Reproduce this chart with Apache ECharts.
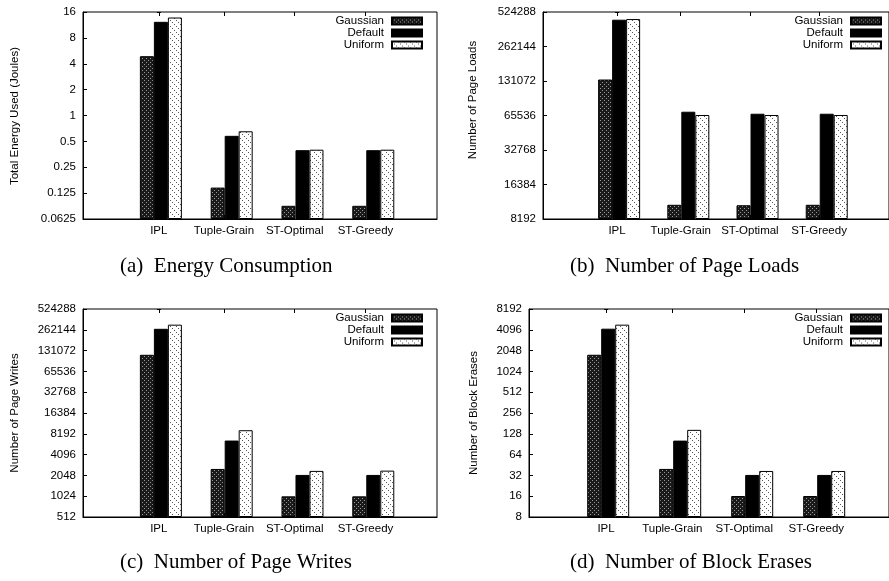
<!DOCTYPE html>
<html>
<head>
<meta charset="utf-8">
<script src="https://cdn.jsdelivr.net/npm/echarts@6/dist/echarts.min.js"></script>
<style>
html,body{margin:0;padding:0;background:#fff;}
#chart{width:889px;height:581px;}
</style>
</head>
<body>
<div id="chart"></div>
<script>
// ---- data ----
const categories = ['IPL', 'Tuple-Grain', 'ST-Optimal', 'ST-Greedy'];
const seriesNames = ['Gaussian', 'Default', 'Uniform'];

const energyGaussian = [4.9, 0.145, 0.089, 0.089];
const energyDefault  = [12.3, 0.58, 0.395, 0.395];
const energyUniform  = [13.8, 0.655, 0.40, 0.40];

const loadsGaussian = [135000, 10900, 10800, 10900];
const loadsDefault  = [449000, 70700, 67900, 67900];
const loadsUniform  = [455000, 66200, 66200, 66200];

const writesGaussian = [114000, 2540, 1020, 1020];
const writesDefault  = [271000, 6540, 2080, 2080];
const writesUniform  = [311000, 9230, 2380, 2400];

const erasesGaussian = [1783, 39.7, 16.1, 16.1];
const erasesDefault  = [4250, 102, 32.5, 32.5];
const erasesUniform  = [4860, 146, 37.1, 37.1];

const energyTicks = [0.0625, 0.125, 0.25, 0.5, 1, 2, 4, 8, 16];
const loadsTicks  = [8192, 16384, 32768, 65536, 131072, 262144, 524288];
const writesTicks = [512, 1024, 2048, 4096, 8192, 16384, 32768, 65536, 131072, 262144, 524288];
const erasesTicks = [8, 16, 32, 64, 128, 256, 512, 1024, 2048, 4096, 8192];

const yTitles = ['Total Energy Used (Joules)', 'Number of Page Loads', 'Number of Page Writes', 'Number of Block Erases'];
const captions = ['(a)  Energy Consumption', '(b)  Number of Page Loads', '(c)  Number of Page Writes', '(d)  Number of Block Erases'];

// ---- patterns ----
function pattern(kind) {
  const c = document.createElement('canvas');
  const ctx = c.getContext('2d');
  if (kind === 'gauss') {
    c.width = 4; c.height = 4;
    ctx.fillStyle = '#1a1a1a'; ctx.fillRect(0, 0, 4, 4);
    ctx.fillStyle = '#9a9a9a'; ctx.fillRect(0, 0, 1, 1); ctx.fillRect(2, 2, 1, 1);
  } else {
    c.width = 6; c.height = 6;
    ctx.fillStyle = '#ffffff'; ctx.fillRect(0, 0, 6, 6);
    ctx.fillStyle = '#555555';
    ctx.fillRect(0, 0, 1, 1); ctx.fillRect(2, 2, 1, 1); ctx.fillRect(4, 4, 1, 1);
  }
  return { image: c, repeat: 'repeat' };
}
const fills = [pattern('gauss'), '#000000', pattern('uni')];

const FONT = 'Liberation Sans, Arial, sans-serif';
const panels = [
  { data: [energyGaussian, energyDefault, energyUniform], ticks: energyTicks,
    grid: { left: 83, top: 12, width: 354, height: 207 }, xmin: -1.1, xmax: 3.9,
    legend: { right: 466, top: 15 }, title: [15, 116], cap: [120, 266] },
  { data: [loadsGaussian, loadsDefault, loadsUniform], ticks: loadsTicks,
    grid: { left: 543, top: 12, width: 354, height: 207 }, xmin: -1.1, xmax: 3.9,
    legend: { right: 7, top: 15 }, title: [473, 100], cap: [570, 266] },
  { data: [writesGaussian, writesDefault, writesUniform], ticks: writesTicks,
    grid: { left: 83, top: 309, width: 354, height: 208 }, xmin: -1.1, xmax: 3.9,
    legend: { right: 466, top: 312 }, title: [15, 413], cap: [120, 562] },
  { data: [erasesGaussian, erasesDefault, erasesUniform], ticks: erasesTicks,
    grid: { left: 529, top: 309, width: 368, height: 208 }, xmin: -1.1, xmax: 3.9,
    legend: { right: 7, top: 312 }, title: [474, 413], cap: [570, 562] }
];

const labelPos = categories.map((c, i) => i - (i === 0 ? 0.03 : 0.11));

const option = { animation: false, backgroundColor: '#fff', grid: [], xAxis: [], yAxis: [], series: [], legend: [], graphic: [] };

panels.forEach((p, pi) => {
  option.grid.push(Object.assign({ show: true, borderColor: '#000', borderWidth: 1, backgroundColor: 'transparent' }, p.grid));
  const lo = p.ticks[0], hi = p.ticks[p.ticks.length - 1];
  const fmtY = v => String(+(+v).toPrecision(10));
  option.xAxis.push({
    type: 'value', gridIndex: pi, min: p.xmin, max: p.xmax, position: 'bottom',
    axisLine: { show: true, onZero: false, lineStyle: { color: '#000', width: 1 } },
    axisTick: { show: true, inside: true, length: 4, customValues: labelPos, lineStyle: { color: '#000' } },
    axisLabel: { show: true, customValues: labelPos, margin: 6, color: '#000', fontFamily: FONT, fontSize: 11.5,
      formatter: v => categories[Math.round(v)] },
    splitLine: { show: false }
  });
  option.xAxis.push({
    type: 'value', gridIndex: pi, min: p.xmin, max: p.xmax, position: 'top',
    axisLine: { show: false },
    axisTick: { show: true, inside: true, length: 4, customValues: labelPos, lineStyle: { color: '#000' } },
    axisLabel: { show: false }, splitLine: { show: false }
  });
  option.yAxis.push({
    type: 'log', logBase: 2, gridIndex: pi, min: lo, max: hi, startValue: lo, interval: 1,
    axisLine: { show: true, onZero: false, lineStyle: { color: '#000', width: 1 } },
    axisTick: { show: true, inside: true, length: 4, lineStyle: { color: '#000' } },
    axisLabel: { color: '#000', fontFamily: FONT, fontSize: 11.5, margin: 7, formatter: fmtY, showMinLabel: true, showMaxLabel: true },
    splitLine: { show: false }
  });
  option.yAxis.push({
    type: 'log', logBase: 2, gridIndex: pi, min: lo, max: hi, position: 'right', interval: 1,
    axisLine: { show: false },
    axisTick: { show: true, inside: true, length: 4, lineStyle: { color: '#000' } },
    axisLabel: { show: false }, splitLine: { show: false }
  });
  p.data.forEach((arr, si) => {
    option.series.push({
      type: 'bar', name: seriesNames[si], xAxisIndex: pi * 2, yAxisIndex: pi * 2,
      barWidth: 14, barGap: '0%',
      itemStyle: { color: fills[si], borderColor: '#000', borderWidth: 1 },
      data: arr.map((v, i) => [i, v])
    });
  });
  option.legend.push(Object.assign({
    orient: 'vertical', align: 'right', padding: 0, itemGap: 0, itemWidth: 30, itemHeight: 7, icon: 'rect',
    data: seriesNames,
    textStyle: { color: '#000', fontFamily: FONT, fontSize: 11.5, lineHeight: 12, padding: [0, 3, 0, 0] }
  }, p.legend));
  option.graphic.push({
    type: 'text', x: p.title[0], y: p.title[1], rotation: Math.PI / 2,
    style: { text: yTitles[pi], fill: '#000', font: '11.5px ' + FONT, align: 'center', verticalAlign: 'middle' }
  });
  option.graphic.push({
    type: 'text', x: p.cap[0], y: p.cap[1],
    style: { text: captions[pi], fill: '#000', font: '21px "Liberation Serif", "Times New Roman", serif', align: 'left', verticalAlign: 'middle' }
  });
});

const chart = echarts.init(document.getElementById('chart'), null, { renderer: 'canvas' });
chart.setOption(option);
</script>
</body>
</html>
